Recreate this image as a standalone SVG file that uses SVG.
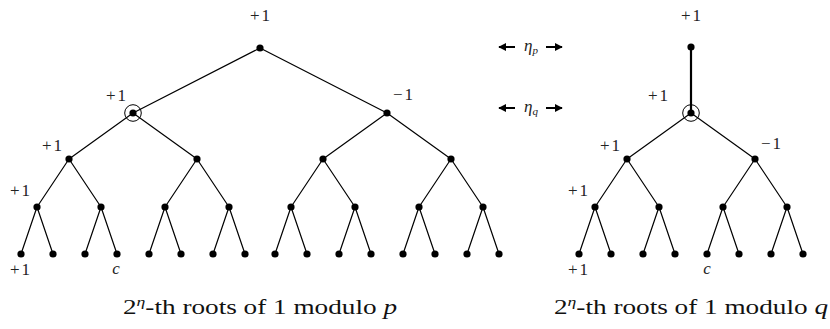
<svg xmlns="http://www.w3.org/2000/svg" width="830" height="329" viewBox="0 0 830 329">
<style>
.e{stroke:#000;stroke-width:1.2;fill:none}
.thick{stroke:#000;stroke-width:2.2;fill:none}
.d{fill:#000}
.ring{fill:none;stroke:#000;stroke-width:1}
.t{font-family:"Liberation Serif",serif;font-size:17px;fill:#222;text-anchor:middle;letter-spacing:2px}
.it{font-family:"Liberation Serif",serif;font-style:italic;fill:#222}
.cap{font-family:"Liberation Serif",serif;font-size:20px;fill:#111;text-anchor:middle}
.ar{stroke:#000;stroke-width:2;fill:none}
</style>
<defs>
<marker id="ah" viewBox="0 0 10 10" refX="9" refY="5" markerWidth="4" markerHeight="4" orient="auto">
<path d="M0,0 L10,5 L0,10 z" fill="#000"/>
</marker>
</defs>
<g id="connectors">
<path class="e" d="M260,48 L133,113 M260,48 L387,113"/>
<path class="e" d="M133,113 L69,159 M133,113 L197,159 M387,113 L323,159 M387,113 L451,159"/>
<path class="e" d="M69,159 L37,207 M69,159 L101,207 M197,159 L165,207 M197,159 L229,207 M323,159 L291,207 M323,159 L355,207 M451,159 L419,207 M451,159 L483,207"/>
<path class="e" d="M37,207 L21,254 M37,207 L53,254 M101,207 L85,254 M101,207 L117,254 M165,207 L149,254 M165,207 L181,254 M229,207 L213,254 M229,207 L245,254 M291,207 L275,254 M291,207 L307,254 M355,207 L339,254 M355,207 L371,254 M419,207 L403,254 M419,207 L435,254 M483,207 L467,254 M483,207 L499,254"/>
<path class="thick" d="M691,47 L691,113"/>
<path class="e" d="M691,113 L627,159 M691,113 L755,159"/>
<path class="e" d="M627,159 L595,207 M627,159 L659,207 M755,159 L723,207 M755,159 L787,207"/>
<path class="e" d="M595,207 L579,254 M595,207 L611,254 M659,207 L643,254 M659,207 L675,254 M723,207 L707,254 M723,207 L739,254 M787,207 L771,254 M787,207 L803,254"/>
</g>
<g id="left-tree">
<g id="p-root"><circle class="d" cx="260" cy="48" r="3.6"/></g>
<g id="p-1a"><circle class="d" cx="133" cy="113" r="3.6"/><circle class="ring" cx="133" cy="113" r="8.3"/></g>
<g id="p-1b"><circle class="d" cx="387" cy="113" r="3.6"/></g>
<g id="p-2a"><circle class="d" cx="69" cy="159" r="3.6"/></g>
<g id="p-2b"><circle class="d" cx="197" cy="159" r="3.6"/></g>
<g id="p-2c"><circle class="d" cx="323" cy="159" r="3.6"/></g>
<g id="p-2d"><circle class="d" cx="451" cy="159" r="3.6"/></g>
<g id="p-3a"><circle class="d" cx="37" cy="207" r="3.6"/></g>
<g id="p-3b"><circle class="d" cx="101" cy="207" r="3.6"/></g>
<g id="p-3c"><circle class="d" cx="165" cy="207" r="3.6"/></g>
<g id="p-3d"><circle class="d" cx="229" cy="207" r="3.6"/></g>
<g id="p-3e"><circle class="d" cx="291" cy="207" r="3.6"/></g>
<g id="p-3f"><circle class="d" cx="355" cy="207" r="3.6"/></g>
<g id="p-3g"><circle class="d" cx="419" cy="207" r="3.6"/></g>
<g id="p-3h"><circle class="d" cx="483" cy="207" r="3.6"/></g>
<g id="p-4a"><circle class="d" cx="21" cy="254" r="3.6"/></g>
<g id="p-4b"><circle class="d" cx="53" cy="254" r="3.6"/></g>
<g id="p-4c"><circle class="d" cx="85" cy="254" r="3.6"/></g>
<g id="p-4d"><circle class="d" cx="117" cy="254" r="3.6"/></g>
<g id="p-4e"><circle class="d" cx="149" cy="254" r="3.6"/></g>
<g id="p-4f"><circle class="d" cx="181" cy="254" r="3.6"/></g>
<g id="p-4g"><circle class="d" cx="213" cy="254" r="3.6"/></g>
<g id="p-4h"><circle class="d" cx="245" cy="254" r="3.6"/></g>
<g id="p-4i"><circle class="d" cx="275" cy="254" r="3.6"/></g>
<g id="p-4j"><circle class="d" cx="307" cy="254" r="3.6"/></g>
<g id="p-4k"><circle class="d" cx="339" cy="254" r="3.6"/></g>
<g id="p-4l"><circle class="d" cx="371" cy="254" r="3.6"/></g>
<g id="p-4m"><circle class="d" cx="403" cy="254" r="3.6"/></g>
<g id="p-4n"><circle class="d" cx="435" cy="254" r="3.6"/></g>
<g id="p-4o"><circle class="d" cx="467" cy="254" r="3.6"/></g>
<g id="p-4p"><circle class="d" cx="499" cy="254" r="3.6"/></g>
</g>
<g id="right-tree">
<g id="q-root"><circle class="d" cx="691" cy="47" r="3.6"/></g>
<g id="q-1"><circle class="d" cx="691" cy="113" r="3.6"/><circle class="ring" cx="691" cy="113" r="8.3"/></g>
<g id="q-2a"><circle class="d" cx="627" cy="159" r="3.6"/></g>
<g id="q-2b"><circle class="d" cx="755" cy="159" r="3.6"/></g>
<g id="q-3a"><circle class="d" cx="595" cy="207" r="3.6"/></g>
<g id="q-3b"><circle class="d" cx="659" cy="207" r="3.6"/></g>
<g id="q-3c"><circle class="d" cx="723" cy="207" r="3.6"/></g>
<g id="q-3d"><circle class="d" cx="787" cy="207" r="3.6"/></g>
<g id="q-4a"><circle class="d" cx="579" cy="254" r="3.6"/></g>
<g id="q-4b"><circle class="d" cx="611" cy="254" r="3.6"/></g>
<g id="q-4c"><circle class="d" cx="643" cy="254" r="3.6"/></g>
<g id="q-4d"><circle class="d" cx="675" cy="254" r="3.6"/></g>
<g id="q-4e"><circle class="d" cx="707" cy="254" r="3.6"/></g>
<g id="q-4f"><circle class="d" cx="739" cy="254" r="3.6"/></g>
<g id="q-4g"><circle class="d" cx="771" cy="254" r="3.6"/></g>
<g id="q-4h"><circle class="d" cx="803" cy="254" r="3.6"/></g>
</g>
<g id="labels">
<text class="t" x="261" y="21">+1</text>
<text class="t" x="117" y="101">+1</text>
<text class="t" x="404" y="100">−1</text>
<text class="t" x="53" y="151">+1</text>
<text class="t" x="21" y="196">+1</text>
<text class="t" x="21" y="275">+1</text>
<text class="it" x="116" y="274" font-size="17" text-anchor="middle">c</text>
<text class="t" x="692" y="21">+1</text>
<text class="t" x="659" y="101">+1</text>
<text class="t" x="611" y="151">+1</text>
<text class="t" x="772" y="149">−1</text>
<text class="t" x="579" y="196">+1</text>
<text class="t" x="579" y="275">+1</text>
<text class="it" x="707" y="274" font-size="17" text-anchor="middle">c</text>
</g>
<g id="eta-markers">
<line class="ar" x1="515" y1="47" x2="499" y2="47" marker-end="url(#ah)"/>
<text class="it" x="531" y="51" font-size="17" text-anchor="middle">η<tspan font-size="11" dy="3">p</tspan></text>
<line class="ar" x1="546" y1="47" x2="562" y2="47" marker-end="url(#ah)"/>
<line class="ar" x1="515" y1="108" x2="499" y2="108" marker-end="url(#ah)"/>
<text class="it" x="531" y="112" font-size="17" text-anchor="middle">η<tspan font-size="11" dy="3">q</tspan></text>
<line class="ar" x1="546" y1="108" x2="562" y2="108" marker-end="url(#ah)"/>
</g>
<g id="captions">
<text class="cap" x="260" y="314" textLength="274" lengthAdjust="spacingAndGlyphs">2<tspan font-size="13" font-style="italic" dy="-8">η</tspan><tspan dy="8">-th roots of 1 modulo </tspan><tspan font-style="italic">p</tspan></text>
<text class="cap" x="691" y="314" textLength="274" lengthAdjust="spacingAndGlyphs">2<tspan font-size="13" font-style="italic" dy="-8">η</tspan><tspan dy="8">-th roots of 1 modulo </tspan><tspan font-style="italic">q</tspan></text>
</g>
</svg>
